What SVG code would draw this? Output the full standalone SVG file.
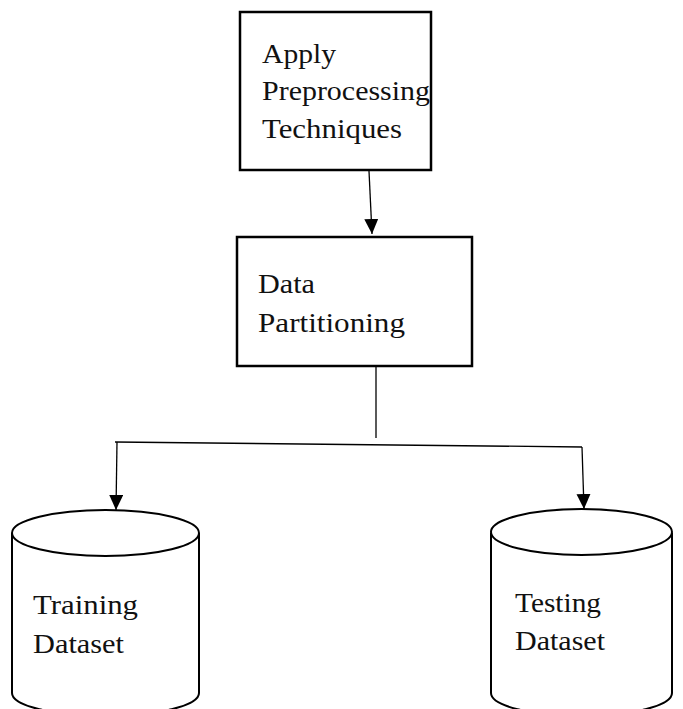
<svg xmlns="http://www.w3.org/2000/svg" width="683" height="709" viewBox="0 0 683 709">
<style>
.box{fill:#fff;stroke:#000;stroke-width:2.5}
.cyl{fill:#fff;stroke:#000;stroke-width:2}
.ln{fill:none;stroke:#000;stroke-width:1.3}
text{font-family:"Liberation Serif","DejaVu Serif",serif;font-size:28px;fill:#111}
</style>
<defs>
<marker id="ah" markerUnits="userSpaceOnUse" markerWidth="16" markerHeight="16" refX="15" refY="7" orient="auto">
<path d="M0,0 L15,7 L0,14 Z" fill="#000"/>
</marker>
</defs>
<g id="preprocess">
<rect class="box" x="240" y="12" width="191" height="158"/>
<text x="262" y="63" textLength="74" lengthAdjust="spacingAndGlyphs">Apply</text>
<text x="262" y="100" textLength="168" lengthAdjust="spacingAndGlyphs">Preprocessing</text>
<text x="262" y="138" textLength="140" lengthAdjust="spacingAndGlyphs">Techniques</text>
</g>
<g id="partition">
<rect class="box" x="237" y="237" width="235" height="129"/>
<text x="258" y="293" textLength="57" lengthAdjust="spacingAndGlyphs">Data</text>
<text x="258" y="332" textLength="147" lengthAdjust="spacingAndGlyphs">Partitioning</text>
</g>
<g id="training">
<path class="cyl" d="M12,533 L12,693 A93.5,23 0 0 0 199,693 L199,533"/>
<ellipse class="cyl" cx="105.5" cy="533" rx="93.5" ry="23"/>
<text x="33" y="614" textLength="105" lengthAdjust="spacingAndGlyphs">Training</text>
<text x="33" y="653" textLength="91" lengthAdjust="spacingAndGlyphs">Dataset</text>
</g>
<g id="testing">
<path class="cyl" d="M491,533 L491,693 A90.5,23 0 0 0 672,693 L672,533"/>
<ellipse class="cyl" cx="581.5" cy="532" rx="90.5" ry="23"/>
<text x="515" y="612" textLength="86" lengthAdjust="spacingAndGlyphs">Testing</text>
<text x="515" y="650" textLength="90" lengthAdjust="spacingAndGlyphs">Dataset</text>
</g>
<g id="connectors">
<line class="ln" x1="369" y1="171" x2="372" y2="234" marker-end="url(#ah)"/>
<line class="ln" x1="376" y1="367" x2="376" y2="438"/>
<line class="ln" x1="115" y1="442" x2="582" y2="447"/>
<line class="ln" x1="117" y1="442" x2="116" y2="510" marker-end="url(#ah)"/>
<line class="ln" x1="582" y1="447" x2="584" y2="509" marker-end="url(#ah)"/>
</g>
</svg>
